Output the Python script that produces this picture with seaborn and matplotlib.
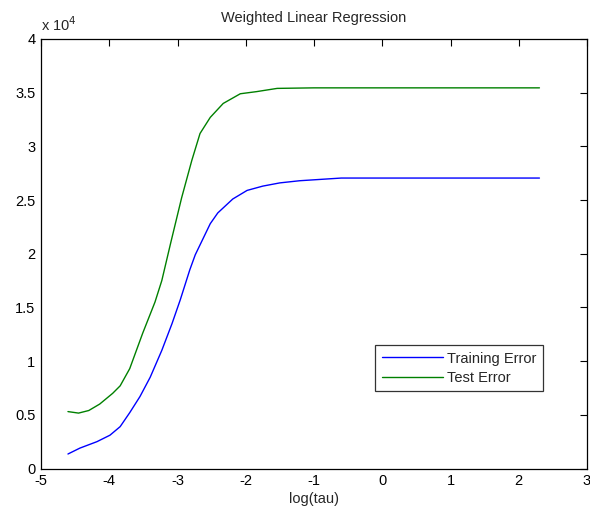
import numpy as np
import pandas as pd
import matplotlib
matplotlib.use("Agg")
import matplotlib.pyplot as plt
import seaborn as sns

# ---- data ----
train_x = [-4.605, -4.43, -4.18, -3.99, -3.84, -3.70, -3.55, -3.40, -3.23, -3.08, -2.96,
           -2.82, -2.74, -2.52, -2.41, -2.19, -1.98, -1.75, -1.50, -1.21, -0.6, 2.303]
train_y = [1350, 1900, 2500, 3100, 3900, 5200, 6700, 8500, 11000, 13500, 15700,
           18500, 19900, 22800, 23800, 25100, 25900, 26300, 26600, 26800, 27050, 27050]
test_x = [-4.605, -4.45, -4.30, -4.14, -3.95, -3.84, -3.70, -3.51, -3.33, -3.23, -3.10,
          -2.94, -2.79, -2.67, -2.52, -2.33, -2.08, -1.84, -1.54, -1.0, 2.303]
test_y = [5300, 5160, 5400, 6000, 7000, 7700, 9300, 12600, 15500, 17500, 21000,
          25200, 28700, 31200, 32700, 34000, 34900, 35100, 35400, 35450, 35450]
series_names = ["Training Error", "Test Error"]
title = "Weighted Linear Regression"
xlabel = "log(tau)"

df = pd.concat([
    pd.DataFrame({"x": train_x, "y": train_y, "series": series_names[0]}),
    pd.DataFrame({"x": test_x, "y": test_y, "series": series_names[1]}),
], ignore_index=True)

sns.set_style("white")
plt.rcParams["font.family"] = ["Liberation Sans", "DejaVu Sans"]
plt.rcParams["font.size"] = 10

fig = plt.figure(figsize=(5.9, 5.15), dpi=100)
ax = fig.add_axes([41/590, 1 - 468.5/515, 546/590, 429.5/515])

sns.lineplot(data=df, x="x", y="y", hue="series", hue_order=series_names,
             palette=["#0000ff", "#008000"], linewidth=1.0, ax=ax, sort=False,
             estimator=None)

ax.set_xlim(-5, 3)
ax.set_ylim(0, 40000)
ax.set_xticks(np.arange(-5, 4, 1))
ax.set_yticks(np.arange(0, 40001, 5000))
ax.set_xticklabels([f"{v:g}" for v in np.arange(-5, 4, 1)])
ax.set_yticklabels([f"{v/1e4:g}" for v in np.arange(0, 40001, 5000)])
ax.tick_params(direction="in", length=5, width=0.8, top=True, right=True,
               labelsize=10.5, colors="black", pad=4)
for s in ax.spines.values():
    s.set_color("black")
    s.set_linewidth(0.9)
    s.set_visible(True)

ax.set_xlabel(xlabel, fontsize=10.5, labelpad=3)
ax.set_ylabel("")
ax.set_title(title, fontsize=10.5, pad=12)
ax.text(0.0, 1.012, r"x 10$^4$", transform=ax.transAxes, fontsize=10.5,
        ha="left", va="bottom")

leg = ax.legend(loc="lower left", bbox_to_anchor=(0.612, 0.18), frameon=True,
                fancybox=False, edgecolor="black", fontsize=10.5,
                handlelength=4.2, handletextpad=0.3, borderpad=0.45,
                labelspacing=0.35, borderaxespad=0)
leg.get_frame().set_linewidth(0.9)
leg.set_title(None)

fig.savefig("out.png", dpi=100, facecolor="white")
